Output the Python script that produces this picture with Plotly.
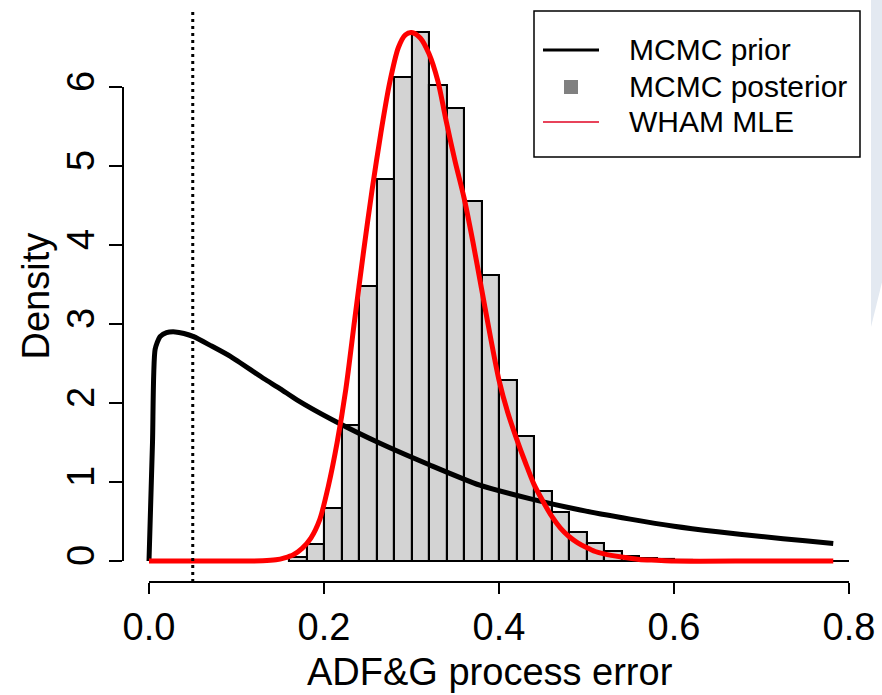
import numpy as np
import plotly.graph_objects as go

# ---------------- data ----------------
hist_breaks = [round(0.16 + 0.02 * i, 2) for i in range(33)]  # 0.16 .. 0.80
hist_density = [0.054, 0.22, 0.675, 1.72, 3.48, 4.83, 6.13, 6.69, 6.02, 5.73,
                4.56, 3.62, 2.29, 1.58, 0.89, 0.62, 0.37, 0.23, 0.127, 0.06,
                0.035, 0.02, 0.01, 0, 0, 0, 0, 0, 0, 0, 0, 0]

prior_x = [0.000, 0.004, 0.007, 0.0126, 0.020, 0.030, 0.040, 0.051, 0.070, 0.093,
           0.131, 0.150, 0.169, 0.210, 0.264, 0.321, 0.378, 0.435, 0.493, 0.550,
           0.600, 0.650, 0.700, 0.750, 0.782]
prior_y = [0.00, 1.50, 2.68, 2.84, 2.89, 2.90, 2.88, 2.84, 2.73, 2.59,
           2.31, 2.18, 2.04, 1.785, 1.49, 1.215, 0.96, 0.79, 0.645, 0.53,
           0.44, 0.37, 0.31, 0.255, 0.222]

mle_x = [0.000, 0.100, 0.130, 0.145, 0.155, 0.165, 0.175, 0.185, 0.195, 0.205,
         0.215, 0.225, 0.235, 0.245, 0.255, 0.265, 0.275, 0.285, 0.293, 0.300,
         0.310, 0.320, 0.330, 0.340, 0.350, 0.360, 0.370, 0.380, 0.390, 0.400,
         0.410, 0.420, 0.430, 0.440, 0.450, 0.460, 0.470, 0.480, 0.490, 0.500,
         0.510, 0.520, 0.540, 0.560, 0.580, 0.600, 0.700, 0.782]
mle_y = [0.00, 0.00, 0.002, 0.015, 0.04, 0.08, 0.16, 0.29, 0.52, 0.95,
         1.50, 2.18, 3.05, 3.90, 4.70, 5.42, 6.05, 6.50, 6.66, 6.69,
         6.62, 6.42, 6.08, 5.55, 5.05, 4.60, 4.05, 3.45, 2.85, 2.29,
         1.88, 1.55, 1.25, 0.97, 0.76, 0.57, 0.42, 0.31, 0.23, 0.17,
         0.12, 0.09, 0.05, 0.02, 0.01, 0.00, 0.00, 0.00]

ref_line_x = 0.05

x_tickvals = [0, 0.2, 0.4, 0.6, 0.8]
x_ticktext = ["0.0", "0.2", "0.4", "0.6", "0.8"]
y_tickvals = [0, 1, 2, 3, 4, 5, 6]
y_ticktext = ["0", "1", "2", "3", "4", "5", "6"]

legend_labels = ["MCMC prior", "MCMC posterior", "WHAM MLE"]
x_title = "ADF&G process error"
y_title = "Density"

# ---------------- geometry ----------------
W, H = 882, 695
ML, MR, MT, MB = 123, 0, 11, 113
PW, PH = W - ML - MR, H - MT - MB
XPX0, XPPU = 149.0, 875.0     # pixel of x=0, pixels per unit
YPX0, YPPU = 561.0, 79.0      # pixel of y=0, pixels per unit
xr = [(ML - XPX0) / XPPU, (W - MR - XPX0) / XPPU]
yr = [(YPX0 - (H - MB)) / YPPU, (YPX0 - MT) / YPPU]


def px(xp, yp):
    return (xp - ML) / PW, ((H - MB) - yp) / PH


FONT = "Liberation Sans, Arial, Helvetica, sans-serif"

fig = go.Figure()

centers = [(hist_breaks[i] + hist_breaks[i + 1]) / 2 for i in range(len(hist_density))]
fig.add_trace(go.Scatter(x=[hist_breaks[0], hist_breaks[-1]], y=[0, 0], mode="lines",
                         line=dict(color="black", width=2), hoverinfo="skip",
                         showlegend=False))
fig.add_trace(go.Bar(x=centers, y=hist_density, width=0.02,
                     marker=dict(color="#d3d3d3", line=dict(color="black", width=2.1)),
                     showlegend=False))
fig.add_trace(go.Scatter(x=prior_x, y=prior_y, mode="lines",
                         line=dict(color="black", width=5, shape="spline", smoothing=0.6),
                         showlegend=False))
fig.add_trace(go.Scatter(x=mle_x, y=mle_y, mode="lines",
                         line=dict(color="#ff0000", width=5, shape="spline", smoothing=0.8),
                         showlegend=False))

shapes = []
# axis lines (R style, only between first and last tick)
shapes.append(dict(type="line", xref="x", yref="paper", x0=x_tickvals[0], x1=x_tickvals[-1],
                   y0=0, y1=0, line=dict(color="black", width=2)))
shapes.append(dict(type="line", xref="paper", yref="y", x0=0, x1=0,
                   y0=y_tickvals[0], y1=y_tickvals[-1], line=dict(color="black", width=2)))
# dotted reference line
shapes.append(dict(type="line", xref="x", yref="paper", x0=ref_line_x, x1=ref_line_x,
                   y0=0, y1=1, line=dict(color="black", width=3, dash="3px,4px")))

# background artefact at right edge
p1 = px(871, -2); p2 = px(884, -2); p3 = px(884, 274); p4 = px(871, 327)
shapes.append(dict(type="path", xref="paper", yref="paper",
                   path=f"M {p1[0]},{p1[1]} L {p2[0]},{p2[1]} L {p3[0]},{p3[1]} L {p4[0]},{p4[1]} Z",
                   fillcolor="#e3e9f1", line=dict(width=0)))

# legend box
a = px(534, 11); b = px(860, 157)
shapes.append(dict(type="rect", xref="paper", yref="paper", x0=a[0], y0=b[1], x1=b[0], y1=a[1],
                   line=dict(color="black", width=1.5), fillcolor="white"))
l1 = px(543, 50); l2 = px(599, 50)
shapes.append(dict(type="line", xref="paper", yref="paper", x0=l1[0], y0=l1[1], x1=l2[0], y1=l2[1],
                   line=dict(color="black", width=3)))
s1 = px(564, 80); s2 = px(578, 94)
shapes.append(dict(type="rect", xref="paper", yref="paper", x0=s1[0], y0=s2[1], x1=s2[0], y1=s1[1],
                   line=dict(width=0), fillcolor="#808080"))
r1 = px(543, 122); r2 = px(599, 122)
shapes.append(dict(type="line", xref="paper", yref="paper", x0=r1[0], y0=r1[1], x1=r2[0], y1=r2[1],
                   line=dict(color="#e8435a", width=2)))

annotations = []
for lab, yy in zip(legend_labels, [50, 86.7, 121.7]):
    p = px(626.5, yy)
    annotations.append(dict(text=lab, xref="paper", yref="paper", x=p[0], y=p[1],
                            xanchor="left", yanchor="middle", showarrow=False,
                            font=dict(family=FONT, size=30, color="black")))
p = px(490, 672)
annotations.append(dict(text=x_title, xref="paper", yref="paper", x=p[0], y=p[1],
                        xanchor="center", yanchor="middle", showarrow=False,
                        font=dict(family=FONT, size=38, color="black")))
p = px(35, 296.5)
annotations.append(dict(text=y_title, xref="paper", yref="paper", x=p[0], y=p[1],
                        xanchor="center", yanchor="middle", showarrow=False, textangle=-90,
                        font=dict(family=FONT, size=38, color="black")))

fig.update_layout(
    width=W, height=H,
    margin=dict(l=ML, r=MR, t=MT, b=MB, pad=0),
    paper_bgcolor="white", plot_bgcolor="white",
    showlegend=False, bargap=0,
    shapes=shapes, annotations=annotations,
    xaxis=dict(range=xr, tickvals=x_tickvals, ticktext=x_ticktext, ticks="outside",
               ticklen=11, tickwidth=2, tickcolor="black", showline=False, showgrid=False,
               zeroline=False, automargin=False,
               tickfont=dict(family=FONT, size=38, color="black")),
    yaxis=dict(range=yr, tickvals=y_tickvals, ticktext=y_ticktext, ticks="outside",
               ticklen=13, tickwidth=2, tickcolor="black", showline=False, showgrid=False,
               zeroline=False, automargin=False, tickangle=-90,
               tickfont=dict(family=FONT, size=38, color="black")),
)

fig.write_html("out.html")
